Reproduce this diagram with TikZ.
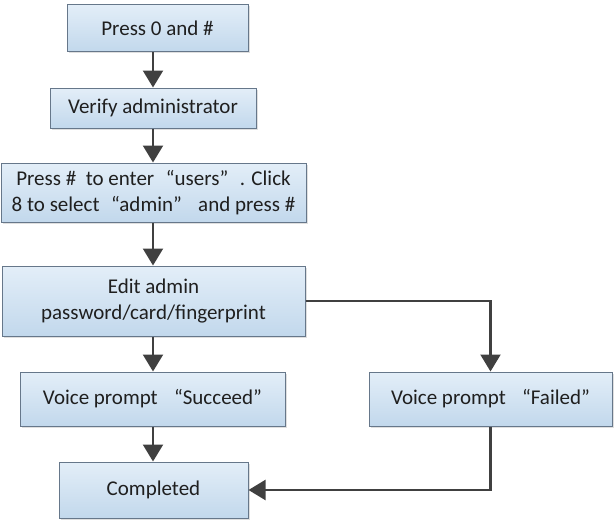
\documentclass[tikz,border=0pt]{standalone}
\usepackage{fontspec}
\setmainfont{Carlito}
\usetikzlibrary{arrows.meta,shadows}
\definecolor{boxtop}{HTML}{E3EEF8}
\definecolor{boxbot}{HTML}{C2D8EC}
\definecolor{boxline}{HTML}{66778A}
\definecolor{arr}{HTML}{404040}
\newcommand{\qsp}{\hspace{0.55em}}
\tikzset{
  stepbox/.style={draw=boxline, line width=1pt, top color=boxtop, bottom color=boxbot,
    inner sep=0pt, align=center, font=\fontsize{21}{26.5}\selectfont, text=black!88,
    drop shadow={shadow xshift=1.5pt, shadow yshift=-1.5pt, opacity=0.25}},
  flow/.style={draw=arr, line width=2.2pt, -{Triangle[width=20pt,length=17pt]}}
}
\begin{document}
\begin{tikzpicture}[x=1pt,y=-1pt]
\useasboundingbox (0,0) rectangle (614,522);
\node[stepbox, minimum width=181pt, minimum height=47pt] (b1) at (157.5,28) {Press 0 and \#};
\node[stepbox, minimum width=206pt, minimum height=40pt] (b2) at (153,108) {Verify administrator};
\node[stepbox, minimum width=305pt, minimum height=59pt] (b3) at (153.5,192.5) {Press \#\ \ to enter\qsp“users”\qsp. Click\\8 to select\qsp“admin”\qsp\ and press \#};
\node[stepbox, minimum width=303pt, minimum height=70pt] (b4) at (153.5,301) {Edit admin\\password/card/fingerprint};
\node[stepbox, minimum width=265pt, minimum height=54pt] (b5) at (152.5,399) {Voice prompt\qsp\ “Succeed”};
\node[stepbox, minimum width=189pt, minimum height=56pt] (b6) at (153.5,490) {Completed};
\node[stepbox, minimum width=243pt, minimum height=54pt] (b7) at (490.5,399) {Voice prompt\qsp\ “Failed”};
\draw[flow] (b1.south -| b2.north) -- (b2.north);
\draw[flow] (b2.south) -- (b3.north -| b2.south);
\draw[flow] (b3.south -| b2.south) -- (b4.north -| b2.south);
\draw[flow] (b4.south -| b2.south) -- (b5.north -| b2.south);
\draw[flow] (b5.south -| b2.south) -- (b6.north -| b2.south);
\draw[flow] (b4.east) -| (b7.north);
\draw[flow] (b7.south) |- (b6.east);
\end{tikzpicture}
\end{document}
